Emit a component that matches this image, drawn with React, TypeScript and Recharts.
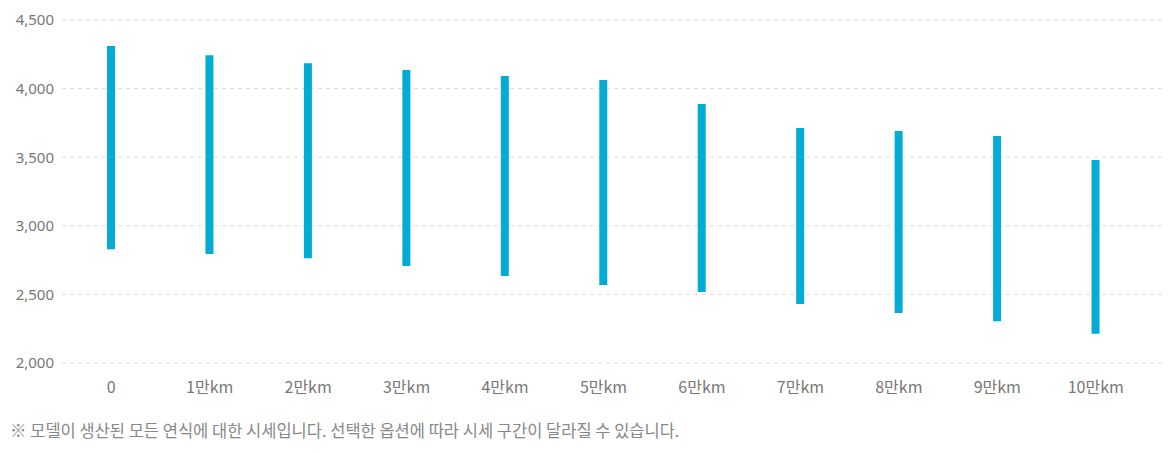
import React from 'react';
import { BarChart, Bar, XAxis, YAxis, CartesianGrid } from 'recharts';

const mileageLabels = ['0', '1만km', '2만km', '3만km', '4만km', '5만km', '6만km', '7만km', '8만km', '9만km', '10만km'];
const lowPrices = [2829, 2794, 2763, 2707, 2634, 2568, 2517, 2430, 2364, 2304, 2213];
const highPrices = [4310, 4243, 4184, 4136, 4092, 4063, 3888, 3713, 3691, 3654, 3480];
const yTicks = [2000, 2500, 3000, 3500, 4000, 4500];

const data = mileageLabels.map((label, i) => ({
  label,
  range: [lowPrices[i], highPrices[i]],
}));

const FONT = '"Noto Sans", "Noto Sans CJK KR", sans-serif';
const KR_FONT = '"Noto Sans CJK KR", sans-serif';

export default function App() {
  return (
    <div style={{ position: 'absolute', left: 0, top: 0, width: 1173, height: 453, background: '#fff', fontFamily: FONT }}>
      <BarChart width={1173} height={410} data={data} margin={{ top: 20, right: 10, bottom: 0, left: 0 }}>
        <CartesianGrid vertical={false} stroke="#dcdcdc" strokeDasharray="4 4" />
        <XAxis
          dataKey="label"
          height={47}
          axisLine={false}
          tickLine={false}
          tickSize={0}
          tickMargin={19}
          padding={{ left: 0, right: 18 }}
          interval={0}
          tick={{ fill: '#777', fontSize: 16, fontFamily: KR_FONT }}
        />
        <YAxis
          domain={[2000, 4500]}
          ticks={yTicks}
          width={62}
          axisLine={false}
          tickLine={false}
          tickSize={0}
          tickMargin={8}
          tickFormatter={(v: number) => v.toLocaleString('en-US')}
          tick={{ fill: '#777', fontSize: 15, fontFamily: FONT }}
        />
        <Bar dataKey="range" fill="#02acd5" barSize={8} isAnimationActive={false} />
      </BarChart>
      <div style={{ position: 'absolute', left: 10, top: 419, fontSize: 16.5, lineHeight: '22px', color: '#888', fontFamily: KR_FONT, whiteSpace: 'nowrap' }}>
        ※ 모델이 생산된 모든 연식에 대한 시세입니다. 선택한 옵션에 따라 시세 구간이 달라질 수 있습니다.
      </div>
    </div>
  );
}
